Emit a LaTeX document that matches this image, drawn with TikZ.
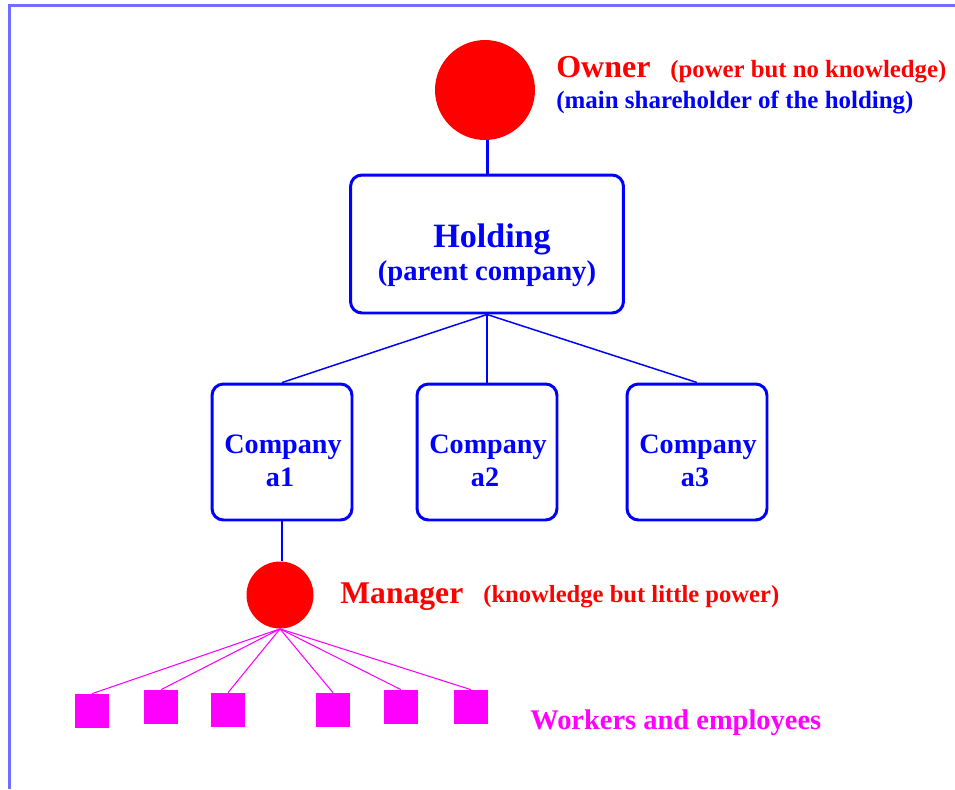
\documentclass[tikz,border=0pt]{standalone}
\usepackage{fontspec}
\setmainfont{Liberation Serif}
\usepackage{tikz}
\definecolor{red1}{HTML}{FF0000}
\definecolor{blue1}{HTML}{0000FF}
\definecolor{pink1}{HTML}{FF00FF}
\definecolor{frame1}{HTML}{6E6EFF}

\begin{document}
\begin{tikzpicture}[x=0.02cm, y=-0.02cm, every node/.style={font=\bfseries, inner sep=0pt},
    box/.style={draw=blue1, line width=1.7pt, rounded corners=6.5pt},
    person/.style={circle, fill=red1},
    worker/.style={fill=pink1, minimum size=0.68cm}]

    \useasboundingbox (0,0) rectangle (955,789);

    % Draw the page frame
    \draw[frame1, line width=0.055cm] (9.5,789) -- (9.5,5.5) -- (955,5.5);

    % Owner on top of the holding
    \node[person, minimum size=2cm] (owner) at (485,90) {};
    \node[red1, anchor=base west, font=\bfseries\fontsize{18.2}{22}\selectfont] (ownername) at (556,77) {Owner};
    \node[red1, anchor=base west, font=\bfseries\fontsize{14.1}{17}\selectfont] (ownerpower) at (670,77) {(power but no knowledge)};
    \node[blue1, anchor=base west, font=\bfseries\fontsize{14.2}{17}\selectfont] (ownernote) at (556,108) {(main shareholder of the holding)};

    % Holding box
    \node[box, minimum width=5.46cm, minimum height=2.76cm] (holding) at (487,244) {};
    \node[blue1, anchor=base, font=\bfseries\fontsize{19.4}{23}\selectfont] (holdname) at (492,247) {Holding};
    \node[blue1, anchor=base, font=\bfseries\fontsize{16.3}{20}\selectfont] (holdnote) at (487,280) {(parent company)};
    \draw[blue1, line width=1.7pt] (holding.north |- owner.south) -- (holding.north);

    % Companies a1, a2, a3
    \foreach \i/\x in {1/282, 2/487, 3/697} {
        \node[box, minimum width=2.8cm, minimum height=2.72cm] (a\i) at (\x,452) {};
        \node[blue1, anchor=base, font=\bfseries\fontsize{16}{20}\selectfont] (a\i name) at (\x+1,453) {Company};
        \node[blue1, anchor=base, font=\bfseries\fontsize{16}{20}\selectfont] (a\i num) at (\x-2,486) {a\i};
        \draw[blue1, line width=0.85pt] (holding.south) -- (a\i.north);
    }

    % Manager under company a1
    \node[person, minimum size=1.34cm] (manager) at (280,595) {};
    \draw[blue1, line width=1.7pt] (a1.south) -- (a1.south |- manager.north);
    \node[red1, anchor=base west, font=\bfseries\fontsize{18}{22}\selectfont] (managername) at (340,603) {Manager};
    \node[red1, anchor=base west, font=\bfseries\fontsize{14}{17}\selectfont] (managernote) at (483,602) {(knowledge but little power)};

    % Workers and employees
    \foreach \j/\x/\y in {1/92/711, 2/161/707, 3/228/710, 4/333/710, 5/401/707, 6/471/707} {
        \node[worker] (w\j) at (\x,\y) {};
        \draw[pink1, line width=0.6pt] (manager.south) -- (w\j.north);
    }
    \node[pink1, anchor=base west, font=\bfseries\fontsize{16.2}{20}\selectfont] (workers) at (530,729) {Workers and employees};

\end{tikzpicture}
\end{document}
